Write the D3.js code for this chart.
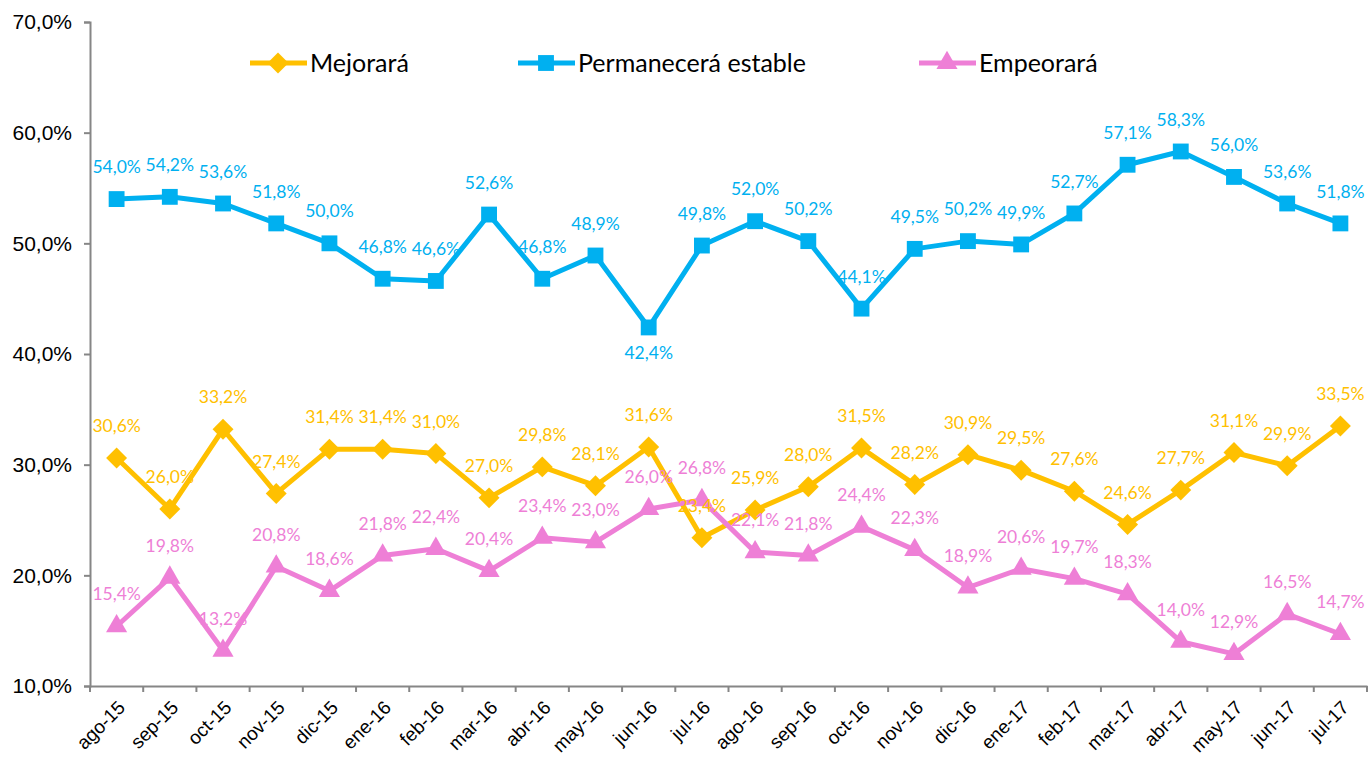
<!DOCTYPE html>
<html>
<head>
<meta charset="utf-8">
<script src="https://cdn.jsdelivr.net/npm/d3@7"></script>
<style>
  body { margin: 0; background: #fff; }
  svg { display: block; }
</style>
</head>
<body>
<svg id="chart"></svg>
<script>
/* data */
const months = ["ago-15", "sep-15", "oct-15", "nov-15", "dic-15", "ene-16", "feb-16", "mar-16",
  "abr-16", "may-16", "jun-16", "jul-16", "ago-16", "sep-16", "oct-16", "nov-16", "dic-16",
  "ene-17", "feb-17", "mar-17", "abr-17", "may-17", "jun-17", "jul-17"];

const mejorara = [30.6, 26.0, 33.2, 27.4, 31.4, 31.4, 31.0, 27.0, 29.8, 28.1, 31.6, 23.4,
  25.9, 28.0, 31.5, 28.2, 30.9, 29.5, 27.6, 24.6, 27.7, 31.1, 29.9, 33.5];
const permanecera = [54.0, 54.2, 53.6, 51.8, 50.0, 46.8, 46.6, 52.6, 46.8, 48.9, 42.4, 49.8,
  52.0, 50.2, 44.1, 49.5, 50.2, 49.9, 52.7, 57.1, 58.3, 56.0, 53.6, 51.8];
const empeorara = [15.4, 19.8, 13.2, 20.8, 18.6, 21.8, 22.4, 20.4, 23.4, 23.0, 26.0, 26.8,
  22.1, 21.8, 24.4, 22.3, 18.9, 20.6, 19.7, 18.3, 14.0, 12.9, 16.5, 14.7];

const series_names = ["Mejorará", "Permanecerá estable", "Empeorará"];
const y_ticks = [10, 20, 30, 40, 50, 60, 70];

/* display parameters */
const width = 1368,
  height = 757,
  m_left = 90,
  m_right = 1367,
  m_top = 22,
  m_bottom = 686,
  label_font = "Lato, 'Open Sans', sans-serif",
  axis_font = "'Liberation Sans', Arial, sans-serif";

const colors = ["#FFC000", "#00B0F0", "#EE7FD6"];
const symbols = [d3.symbolDiamond2, d3.symbolSquare2, d3.symbolTriangle2];
const sym_sizes = [280, 320, 320];
// labels placed under the point (series index -> month index)
const below = { 1: [10] };

const locale = d3.formatLocale({ decimal: ",", thousands: ".", grouping: [3], currency: ["", "€"] });
const fmt = v => locale.format(".1f")(v) + "%";

const svg = d3.select("#chart").attr("width", width).attr("height", height);

const x = d3.scaleBand().domain(months).range([m_left, m_right]).padding(0);
const cx = d => x(d) + x.bandwidth() / 2;
const y = d3.scaleLinear().domain([10, 70]).range([m_bottom, m_top]);

/* axes */
const y_axis = svg.append("g")
  .attr("transform", "translate(" + m_left + ",0)")
  .call(d3.axisLeft(y).tickValues(y_ticks).tickSize(6).tickPadding(12).tickFormat(fmt));
y_axis.select(".domain").attr("stroke", "#868686").attr("stroke-width", 2);
y_axis.selectAll(".tick line").attr("stroke", "#868686").attr("stroke-width", 2);
y_axis.selectAll(".tick text")
  .attr("font-family", axis_font)
  .attr("font-size", 21)
  .attr("fill", "#000");

const x_axis = svg.append("g")
  .attr("transform", "translate(0," + m_bottom + ")")
  .call(d3.axisBottom(x).tickSize(0).tickPadding(0));
x_axis.select(".domain").attr("stroke", "#868686").attr("stroke-width", 2);
x_axis.selectAll(".tick text")
  .attr("font-family", axis_font)
  .attr("font-size", 19)
  .attr("fill", "#000")
  .attr("text-anchor", "end")
  .attr("transform", "translate(5,18) rotate(-45)")
  .attr("dy", "0.35em")
  .attr("y", 0);

// boundary tick marks between categories
x_axis.selectAll("line.bound")
  .data(months.map(m => x(m)).concat([m_right]))
  .join("line")
  .attr("class", "bound")
  .attr("x1", d => d).attr("x2", d => d)
  .attr("y1", 0).attr("y2", 6)
  .attr("stroke", "#868686").attr("stroke-width", 2);

/* lines */
const all_series = [mejorara, permanecera, empeorara];
const line = d3.line().x((d, i) => cx(months[i])).y(d => y(d));

all_series.forEach((vals, s) => {
  const g = svg.append("g");
  g.append("path")
    .datum(vals)
    .attr("d", line)
    .attr("fill", "none")
    .attr("stroke", colors[s])
    .attr("stroke-width", 5)
    .attr("stroke-linejoin", "round");
  g.selectAll("path.mark")
    .data(vals)
    .join("path")
    .attr("class", "mark")
    .attr("d", d3.symbol().type(symbols[s]).size(sym_sizes[s]))
    .attr("transform", (d, i) => "translate(" + cx(months[i]) + "," + y(d) + ")")
    .attr("fill", colors[s]);
});

/* data labels */
all_series.forEach((vals, s) => {
  const low = below[s] || [];
  svg.append("g").selectAll("text")
    .data(vals)
    .join("text")
    .attr("x", (d, i) => cx(months[i]))
    .attr("y", (d, i) => y(d) + (low.includes(i) ? 25 : -32))
    .attr("dy", "0.35em")
    .attr("text-anchor", "middle")
    .attr("font-family", label_font)
    .attr("font-size", 17.5)
    .attr("fill", colors[s])
    .text(d => fmt(d));
});

/* legend */
const legend_x = [250, 518, 919];
const legend = svg.append("g").selectAll("g")
  .data(series_names)
  .join("g")
  .attr("transform", (d, i) => "translate(" + legend_x[i] + ",63)");
legend.append("line")
  .attr("x1", 0).attr("x2", 57)
  .attr("stroke", (d, i) => colors[i])
  .attr("stroke-width", 5);
legend.append("path")
  .attr("d", (d, i) => d3.symbol().type(symbols[i]).size(sym_sizes[i])())
  .attr("transform", "translate(28,0)")
  .attr("fill", (d, i) => colors[i]);
legend.append("text")
  .attr("x", 60)
  .attr("dy", "0.35em")
  .attr("font-family", label_font)
  .attr("font-size", 25)
  .attr("fill", "#000")
  .text(d => d);
</script>
</body>
</html>
